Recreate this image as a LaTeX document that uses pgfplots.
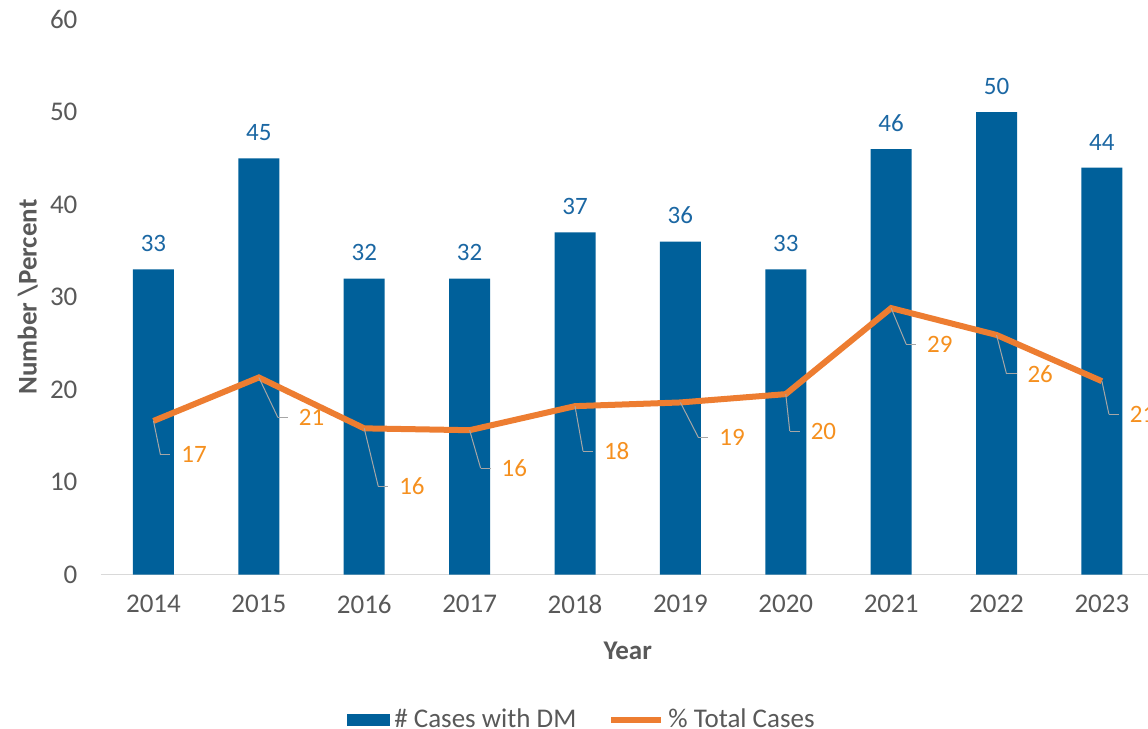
\documentclass[border=0pt]{standalone}
\usepackage{fontspec}
\setmainfont{Carlito}
\usepackage{pgfplots}
\usepackage{pgfplotstable}
\pgfplotsset{compat=1.18}
\definecolor{barblue}{HTML}{00609A}
\definecolor{lblblue}{HTML}{1B67A3}
\definecolor{lineorange}{HTML}{ED7D31}
\definecolor{lblorange}{HTML}{F5901F}
\definecolor{tickgray}{HTML}{595959}
\definecolor{axisgray}{HTML}{D9D9D9}
\definecolor{leadgray}{HTML}{A6A6A6}

% dx, dy: offset (px) of the label's left/middle from the point
\pgfplotstableread{
x year cnt pct lbl dx dy
0 2014 33 16.6 17 25 34
1 2015 45 21.3 21 37 40
2 2016 32 15.8 16 32 58
3 2017 32 15.6 16 29 38
4 2018 37 18.2 18 26 45
5 2019 36 18.6 19 36 35
6 2020 33 19.5 20 22 37
7 2021 46 28.8 29 33 36
8 2022 50 25.9 26 28 39
9 2023 44 20.9 21 25 33
}\datatable

\begin{document}
\begin{tikzpicture}
\begin{axis}[
  scale only axis, width=526.9pt, height=277.5pt,
  xmin=-0.5, xmax=9.5, ymin=0, ymax=60,
  xtick={0,1,2,3,4,5,6,7,8,9},
  xticklabels={2014,2015,2016,2017,2018,2019,2020,2021,2022,2023},
  ytick={0,10,20,30,40,50,60},
  axis x line=bottom, axis y line=left,
  axis line style={-},
  y axis line style={draw=none},
  x axis line style={draw=axisgray, line width=0.8pt},
  major tick length=0pt,
  /pgf/number format/assume math mode=true,
  tick label style={font=\fontsize{13.5}{16}\selectfont, text=tickgray},
  yticklabel style={inner sep=0pt, xshift=-11.5pt},
  xticklabel style={inner sep=0pt, yshift=-10pt},
  xlabel={Year},
  ylabel={Number \textbackslash Percent},
  xlabel style={at={(axis description cs:0.5,-0.1378)}, anchor=center, font=\fontsize{13.5}{16}\selectfont\bfseries, text=tickgray},
  ylabel style={at={(axis description cs:-0.0693,0.5)}, anchor=center, font=\fontsize{13.5}{16}\selectfont\bfseries, text=tickgray},
  clip=false,
  legend columns=2,
  legend style={at={(axis description cs:0.4576,-0.262)}, anchor=center, draw=none, fill=none,
    font=\fontsize{13.5}{16}\selectfont, text=tickgray,
    /tikz/every even column/.append style={column sep=14pt}},
]
\addplot[ybar, bar width=20.5pt, fill=barblue, draw=none,
  nodes near coords, point meta=explicit,
  every node near coord/.style={font=\fontsize{12.5}{15}\selectfont, text=lblblue, inner sep=0pt, anchor=south, yshift=8.5pt},
  legend image code/.code={\fill[barblue] (0pt,-3pt) rectangle (21.5pt,3pt);}
] table[x=x, y=cnt, meta=cnt]{\datatable};
\addlegendentry{\# Cases with DM}
\addplot[lineorange, line width=3pt, mark=none,
  nodes near coords, point meta=explicit,
  visualization depends on={\thisrow{dx} \as \dx},
  visualization depends on={\thisrow{dy} \as \dy},
  every node near coord/.style={inner sep=0pt, anchor=west,
    xshift={\dx*0.5pt}, yshift={-\dy*0.5pt},
    text=lblorange, font=\fontsize{12.5}{15}\selectfont},
  legend image code/.code={\draw[lineorange, line width=3pt] (0pt,0pt) -- (25pt,0pt);}
] table[x=x, y=pct, meta=lbl]{\datatable};
\addlegendentry{\% Total Cases}
% leader lines: diagonal part
\addplot[forget plot, leadgray, line width=0.5pt, mark=none,
  quiver={u={(\thisrow{dx}-18)/105.38}, v={-\thisrow{dy}/9.25}}]
  table[x=x, y=pct]{\datatable};
% leader lines: horizontal hook
\addplot[forget plot, leadgray, line width=0.5pt, mark=none,
  quiver={u={10/105.38}, v={0}}]
  table[x expr={\thisrow{x}+(\thisrow{dx}-18)/105.38}, y expr={\thisrow{pct}-\thisrow{dy}/9.25}]{\datatable};
\end{axis}
\pgfresetboundingbox
\path[use as bounding box] ([shift={(-50.4pt,-77.25pt)}]current axis.south west) rectangle ++(574pt,364.5pt);
\end{tikzpicture}
\end{document}
